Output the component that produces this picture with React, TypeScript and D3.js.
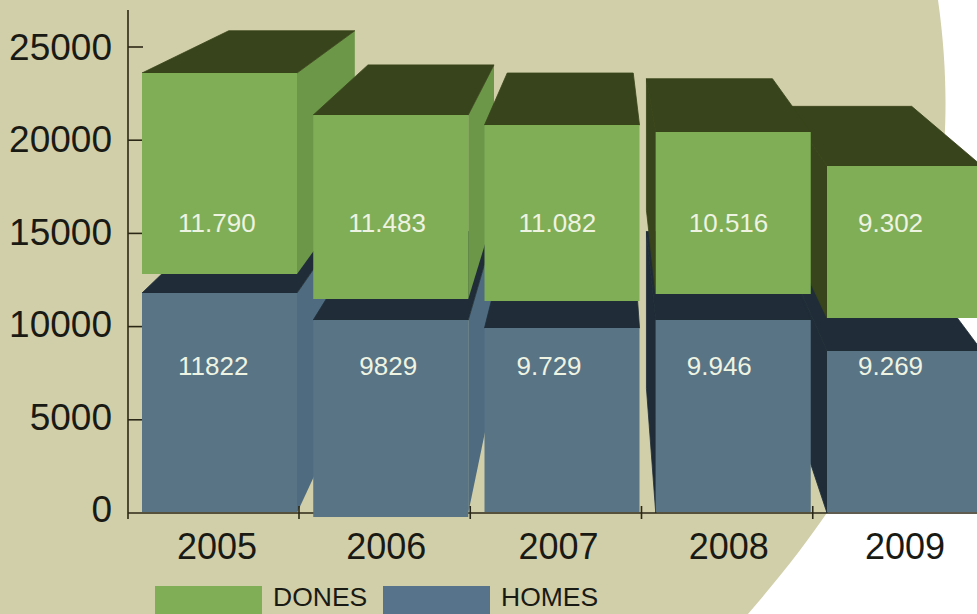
import React from "react";
import * as d3 from "d3";

const years = ["2005", "2006", "2007", "2008", "2009"];
const yTicks = [0, 5000, 10000, 15000, 20000, 25000];
// Drawn extents in axis units (the artwork is not strictly to scale)
const homesBase = [0, -215, 0, 0, 0];
const homesTop = [11803, 10354, 9925, 10354, 8691];
const donesBase = [12822, 11481, 11373, 11749, 10461];
const donesTop = [23605, 21352, 20815, 20440, 18616];
// Printed labels
const donesLabels = ["11.790", "11.483", "11.082", "10.516", "9.302"];
const homesLabels = ["11822", "9829", "9.729", "9.946", "9.269"];

const W = 977;
const H = 614;
const barW = 155;
const axisY = 513;
const depth = 0.813; // scale of the back face
const vp = { x: 606, y: -153 }; // vanishing point
const donesLabelDx = [36, 35, 34, 33, 31];
const homesLabelDx = [36, 46, 32, 31, 31];
const yearDx = [75, 73, 74, 73, 78];
const paintOrder = [0, 1, 4, 3, 2];

const C = {
  bg: "#d1cfa9",
  axis: "#2b2716",
  green: "#7fae56",
  greenSide: "#6c9748",
  greenDark: "#38441b",
  blue: "#587485",
  blueSide: "#4e6b80",
  blueDark: "#202d38",
  legendBlue: "#56738b",
  label: "#eef3e2",
};
const FONT = "'Liberation Sans', Arial, sans-serif";

const x = d3.scalePoint<string>().domain(years).range([142, 827]);
const y = d3.scaleLinear().domain([0, 25000]).range([axisY, 47]);
const back = (px: number, py: number): [number, number] => [
  vp.x + depth * (px - vp.x),
  vp.y + depth * (py - vp.y),
];
const poly = d3.line();

function Box({ x0, yTop, yBot, yBaseBack, front, side, dark }: any) {
  const x1 = x0 + barW;
  const tl: [number, number] = [x0, yTop];
  const tr: [number, number] = [x1, yTop];
  const bl: [number, number] = [x0, yBaseBack];
  const br: [number, number] = [x1, yBaseBack];
  const showRight = x1 < vp.x;
  const showLeft = x0 > vp.x;
  return (
    <g>
      {showRight && (
        <path d={poly([tr, back(...tr), back(...br), br]) + "Z"} fill={side} />
      )}
      {showLeft && (
        <path
          d={poly([tl, back(...tl), back(...bl), bl]) + "Z"}
          fill={dark}
          stroke={dark}
          strokeWidth={0.8}
        />
      )}
      <path
        d={poly([tl, back(...tl), back(...tr), tr]) + "Z"}
        fill={dark}
        stroke={dark}
        strokeWidth={0.8}
      />
      <rect x={x0} y={yTop} width={barW} height={yBot - yTop} fill={front} />
    </g>
  );
}

export default function App() {
  return (
    <svg
      width={W}
      height={H}
      viewBox={`0 0 ${W} ${H}`}
      style={{ position: "absolute", left: 0, top: 0, display: "block", background: "#fff" }}
    >
      <path
        d="M0,0 L938,0 C948,70 947,130 941,180 C925,340 890,450 748,614 L0,614 Z"
        fill={C.bg}
      />
      <line x1={128} x2={128} y1={10} y2={519} stroke={C.axis} strokeWidth={1.6} />
      <line x1={128} x2={W} y1={axisY} y2={axisY} stroke={C.axis} strokeWidth={1.6} />
      {yTicks.map((t) => (
        <g key={t}>
          {t > 0 && (
            <line x1={128} x2={143} y1={y(t)} y2={y(t)} stroke={C.axis} strokeWidth={1.6} />
          )}
          <text
            x={112}
            y={y(t) + 9 + (4 * t) / 25000}
            textAnchor="end"
            fontFamily={FONT}
            fontSize={37}
            fill="#1a1a14"
          >
            {t}
          </text>
        </g>
      ))}
      {paintOrder.map((i) => {
        const x0 = x(years[i])!;
        return (
          <g key={years[i]}>
            <Box
              x0={x0}
              yTop={y(homesTop[i])}
              yBot={y(homesBase[i]) - (homesBase[i] === 0 ? 1 : 0)}
              yBaseBack={axisY}
              front={C.blue}
              side={C.blueSide}
              dark={C.blueDark}
            />
            <Box
              x0={x0}
              yTop={y(donesTop[i])}
              yBot={y(donesBase[i])}
              yBaseBack={y(donesBase[i])}
              front={C.green}
              side={C.greenSide}
              dark={C.greenDark}
            />
          </g>
        );
      })}
      {years.map((yr, i) => {
        const x0 = x(yr)!;
        return (
          <g key={yr}>
            {i < 4 && (
              <line
                x1={x0 + barW + 2}
                x2={x0 + barW + 2}
                y1={506}
                y2={519}
                stroke={C.axis}
                strokeWidth={1.6}
              />
            )}
            <text x={x0 + donesLabelDx[i]} y={232} fontFamily={FONT} fontSize={26} fill={C.label}>
              {donesLabels[i]}
            </text>
            <text x={x0 + homesLabelDx[i]} y={375} fontFamily={FONT} fontSize={26} fill={C.label}>
              {homesLabels[i]}
            </text>
            <text
              x={x0 + yearDx[i]}
              y={559}
              textAnchor="middle"
              fontFamily={FONT}
              fontSize={36}
              fill="#1a1a14"
            >
              {yr}
            </text>
          </g>
        );
      })}
      <rect x={155} y={586} width={107} height={28} fill={C.green} />
      <text x={273} y={606} fontFamily={FONT} fontSize={26.5} fill="#1a1a14">
        DONES
      </text>
      <rect x={383} y={586} width={107} height={28} fill={C.legendBlue} />
      <text x={501} y={606} fontFamily={FONT} fontSize={26.5} fill="#1a1a14">
        HOMES
      </text>
    </svg>
  );
}
